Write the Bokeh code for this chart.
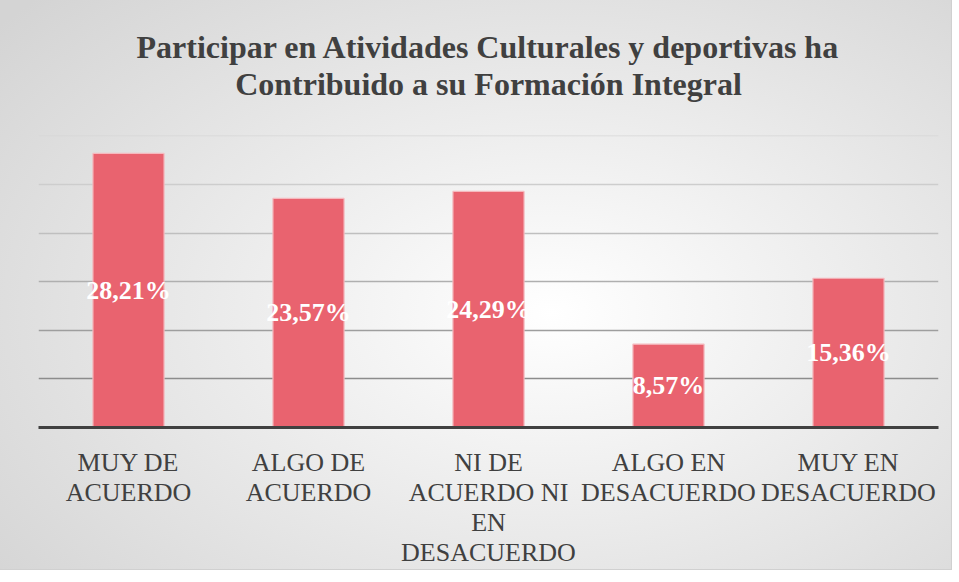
from bokeh.plotting import figure
from bokeh.models import ColumnDataSource, Range1d, FixedTicker, Title, LabelSet, Grid
from bokeh.embed import file_html
from bokeh.resources import INLINE

categories = ["MUY DE\nACUERDO", "ALGO DE\nACUERDO", "NI DE\nACUERDO NI\nEN\nDESACUERDO",
              "ALGO EN\nDESACUERDO", "MUY EN\nDESACUERDO"]
values = [28.21, 23.57, 24.29, 8.57, 15.36]
labels = [f"{v:.2f}".replace(".", ",") + "%" for v in values]
mids = [v / 2 for v in values]
grid_ticks = [5, 10, 15, 20, 25, 30]
title_lines = ["Participar en Atividades Culturales y deportivas ha",
               "Contribuido a su Formación Integral"]

src = ColumnDataSource(dict(cat=categories, val=values, lab=labels, mid=mids))

p = figure(x_range=categories, y_range=Range1d(0, 30.05), width=951, height=569,
           output_backend="svg", toolbar_location=None,
           min_border_left=38, min_border_right=13, min_border_top=135, min_border_bottom=142)
p.title = None
p.styles = {"background": "radial-gradient(ellipse 75% 80% at 58% 55%, #ffffff 0%, #f2f2f2 30%, #d4d4d4 100%)",
            "outline": "1px solid #d0d0d0"}
p.background_fill_alpha = 0
p.border_fill_alpha = 0
p.outline_line_color = None

p.vbar(x="cat", top="val", width=0.395, source=src, fill_color="#E9636F",
       line_color="#F5B9BE", line_width=1.2)

p.add_layout(LabelSet(x="cat", y="mid", text="lab", source=src, text_align="center",
                      text_baseline="middle", text_color="white", text_font="Liberation Serif",
                      text_font_size="26px", text_font_style="bold"))

p.yaxis.visible = False
p.xgrid.visible = False
p.ygrid.visible = False
grid_colors = ["#8c8c8c", "#9e9e9e", "#afafaf", "#bfbfbf", "#cdcdcd", "#d6d6d6"]
for t, c in zip(grid_ticks, grid_colors):
    p.add_layout(Grid(dimension=1, ticker=FixedTicker(ticks=[t]),
                      grid_line_color=c, grid_line_width=1.6))

ax = p.xaxis[0]
ax.axis_line_color = "#404040"
ax.axis_line_width = 3
ax.major_tick_line_color = None
ax.minor_tick_line_color = None
ax.major_tick_out = 0
ax.major_tick_in = 0
ax.minor_tick_out = 0
ax.minor_tick_in = 0
ax.major_label_text_font = "Liberation Serif"
ax.major_label_text_font_size = "26px"
ax.major_label_text_color = "#404040"
ax.major_label_standoff = 20
ax.major_label_text_line_height = 1.04

# panels above stack outward from the frame: spacer, second line, first line
p.add_layout(Title(text=" ", text_font="Liberation Serif", text_font_size="32px",
                   standoff=-4), "above")
for txt, so in zip(reversed(title_lines), [0, -3]):
    p.add_layout(Title(text=txt, align="center", text_font="Liberation Serif",
                       text_font_size="32px", text_font_style="bold",
                       text_color="#404040", standoff=so), "above")

open("out.html", "w").write(file_html(p, INLINE))
